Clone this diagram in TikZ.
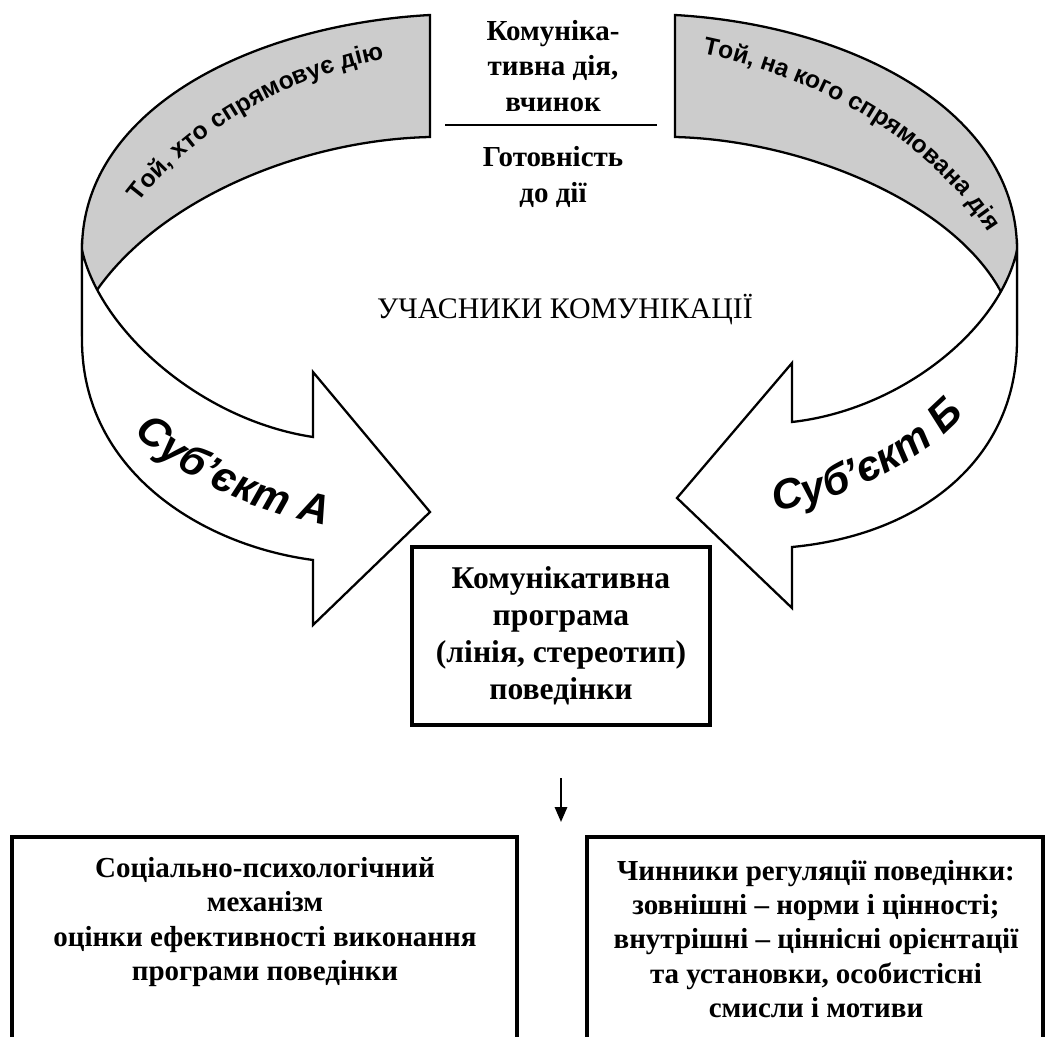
\documentclass[tikz,border=0pt]{standalone}
\usepackage{fontspec}
\setmainfont{Liberation Serif}
\newfontfamily\bandsans{Liberation Sans}
\usetikzlibrary{decorations.text,arrows.meta}

\newcommand{\bandfont}{\bandsans\bfseries\fontsize{14}{16}\selectfont}
\newcommand{\subjfont}{\bandsans\bfseries\itshape\fontsize{24}{28}\selectfont}

\begin{document}
\begin{tikzpicture}[x=0.02cm, y=-0.02cm,
    band/.style={draw, line width=1.3pt, line join=miter},
    backband/.style={band, fill=black!20},
    frontband/.style={band, fill=white},
    box/.style={draw, line width=1.8pt},
    label/.style={font=\bfseries\fontsize{16.5}{19.5}\selectfont, align=center, inner sep=0pt}]
    \useasboundingbox (0,0) rectangle (1046,1037);

    % back half of the ring
    \path[backband] (430,15) .. controls (250,25) and (82,110) .. (82,250)
      -- (82,330) -- (97,290) .. controls (160,200) and (300,140) .. (430,137) -- cycle;
    \path[backband] (675,15) .. controls (850,25) and (1017,110) .. (1017,250)
      -- (1017,330) -- (1000,290) .. controls (950,200) and (800,140) .. (675,137) -- cycle;

    % front half, ending in the two arrows
    \path[frontband] (82,250) .. controls (100,330) and (200,420) .. (313,437)
      -- (313,372) -- (430,512) -- (313,625) -- (313,560)
      .. controls (200,545) and (82,470) .. (82,340) -- cycle;
    \path[frontband] (1017,250) .. controls (1000,330) and (900,410) .. (792,422)
      -- (792,363) -- (677,498) -- (792,608) -- (792,547)
      .. controls (920,535) and (1017,460) .. (1017,340) -- cycle;

    \begin{scope}[decoration={text along path, text align=center}]
      \path[decorate, decoration={text={|\bandfont|Той, хто спрямовує дію}}]
        (128,218) .. controls (183,133) and (293,73) .. (403,55);
      \path[decorate, decoration={text={|\bandfont|Той, на кого спрямована дія}}]
        (685,50) .. controls (800,70) and (932,132) .. (997,247);
      \path[decorate, decoration={text={|\subjfont|Суб’єкт А}}]
        (118,418) .. controls (173,478) and (253,513) .. (348,530);
      \path[decorate, decoration={text={|\subjfont|Суб’єкт Б}}]
        (745,516) .. controls (840,506) and (935,461) .. (985,391);
    \end{scope}

    \begin{scope}[every node/.style={label}]
      \node [font=\bfseries\fontsize{16.5}{20}\selectfont] (act) at (553,66) {Комуніка-\\тивна дія,\\вчинок};
      \node [font=\bfseries\fontsize{16.5}{20}\selectfont] (ready) at (553,177) {Готовність\\до дії};
      \node [font=\fontsize{17}{20}\selectfont] (parts) at (565,310) {УЧАСНИКИ КОМУНІКАЦІЇ};
      \node [draw, line width=1.8pt, minimum width=5.96cm, minimum height=3.56cm,
        font=\bfseries\fontsize{18}{21}\selectfont] (prog) at (561,636)
        {Комунікативна\\програма\\(лінія, стереотип)\\поведінки};
      \node (mech) at (265,922) {Соціально-психологічний\\механізм\\оцінки ефективності виконання\\програми поведінки};
      \node (factors) at (816,939) {Чинники регуляції поведінки:\\зовнішні – норми і цінності;\\внутрішні – ціннісні орієнтації\\та установки, особистісні\\смисли і мотиви};
    \end{scope}

    \coordinate (barl) at (445,125);
    \coordinate (barr) at (657,125);
    \draw[line width=1.6pt] (barl) -- (barr);

    % open boxes at the bottom
    \draw[box] (12,1037) -- (12,837) -- (517,837) -- (517,1037);
    \draw[box] (587,1037) -- (587,837) -- (1043,837) -- (1043,1037);

    \coordinate (downtop) at (561,778);
    \coordinate (downbot) at (561,822);
    \draw[line width=1.2pt, -{Triangle[width=7pt, length=8.5pt]}] (downtop) -- (downbot);
  \end{tikzpicture}
\end{document}
